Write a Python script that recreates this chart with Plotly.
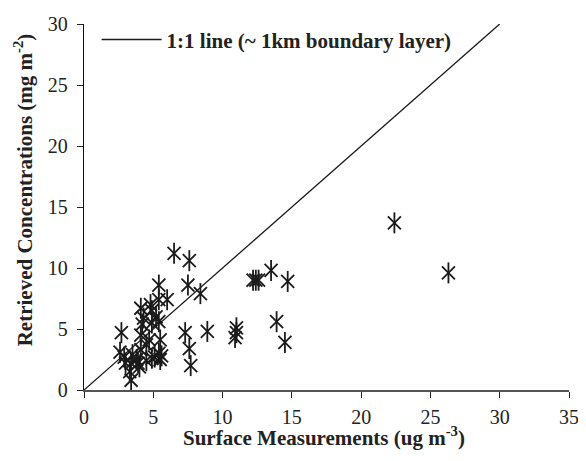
import plotly.graph_objects as go

surface = [2.7, 2.6, 2.9, 3.0, 3.3, 3.4, 3.5, 3.4, 3.8, 4.0, 4.1, 4.5, 4.1, 4.7, 4.9,
           5.4, 5.5, 5.5, 4.2, 4.9, 4.1, 4.8, 4.9, 4.3, 5.2, 5.4, 5.4, 6.0, 5.4, 5.6,
           6.5, 7.6, 7.5, 8.4, 7.3, 7.6, 7.7, 8.9, 11.0, 10.9, 11.0, 12.2, 12.4, 12.6,
           13.5, 14.7, 13.9, 14.5, 22.4, 26.3, 3.9, 4.5, 5.1]
retrieved = [4.7, 3.1, 2.7, 2.2, 1.5, 0.8, 2.9, 2.2, 2.5, 1.9, 3.3, 3.7, 4.5, 4.1, 2.6,
             3.0, 2.5, 4.1, 5.4, 5.5, 6.7, 7.0, 6.5, 5.9, 6.0, 5.6, 7.4, 7.4, 8.6, 2.8,
             11.2, 10.6, 8.6, 7.9, 4.7, 3.4, 2.0, 4.8, 5.1, 4.3, 4.7, 9.0, 9.0, 9.0,
             9.8, 8.9, 5.6, 3.9, 13.7, 9.6, 2.2, 2.4, 2.7]
line_x = [0, 30]
line_y = [0, 30]

x_title = "<b>Surface Measurements (ug m<sup>-3</sup>)</b>"
y_title = "<b>Retrieved Concentrations (mg m<sup>-2</sup>)</b>"

font_family = "Liberation Serif"
ink = "#1a1a1a"

fig = go.Figure()
fig.add_trace(go.Scatter(x=surface, y=retrieved, mode="markers", showlegend=False,
                         marker=dict(symbol="x-thin-open", size=13, color=ink,
                                     line=dict(color=ink, width=1.8))))
fig.add_trace(go.Scatter(x=surface, y=retrieved, mode="markers", showlegend=False,
                         marker=dict(symbol="line-ns-open", size=15, color=ink,
                                     line=dict(color=ink, width=1.8))))
fig.add_trace(go.Scatter(x=line_x, y=line_y, mode="lines",
                         name="<b>1:1 line (~ 1km boundary layer)</b>",
                         line=dict(color=ink, width=1.3)))

# page body has an 8px default margin, so the figure is drawn 8px smaller
fig.update_layout(
    width=578, height=453,
    margin=dict(l=76, r=17, t=15, b=71),
    paper_bgcolor="white", plot_bgcolor="white",
    font=dict(family=font_family, size=21, color="#222"),
    legend=dict(x=0.026, y=1.01, xanchor="left", yanchor="top",
                bgcolor="rgba(0,0,0,0)", font=dict(size=21, family=font_family),
                itemwidth=60),
    xaxis=dict(range=[0, 35], dtick=5, tick0=0, showgrid=False, zeroline=False,
               showline=True, linecolor="#555", linewidth=2,
               ticks="outside", ticklen=6, tickcolor="#222",
               ticklabelstandoff=2, tickfont=dict(size=20),
               ticklabeloverflow="allow", automargin=False),
    yaxis=dict(range=[0, 30], dtick=5, tick0=0, showgrid=False, zeroline=False,
               showline=True, linecolor="#111", linewidth=1.3,
               ticks="outside", ticklen=6, tickcolor="#222",
               ticklabelstandoff=5, tickfont=dict(size=20), automargin=False),
    annotations=[
        dict(text=x_title, xref="paper", yref="paper", x=0.494, y=-0.128,
             xanchor="center", yanchor="middle", showarrow=False,
             font=dict(size=21, family=font_family, color="#222")),
        dict(text=y_title, xref="paper", yref="paper", x=-0.124, y=0.548,
             xanchor="center", yanchor="middle", showarrow=False, textangle=-90,
             font=dict(size=21, family=font_family, color="#222")),
    ],
)

fig.write_html("out.html")
